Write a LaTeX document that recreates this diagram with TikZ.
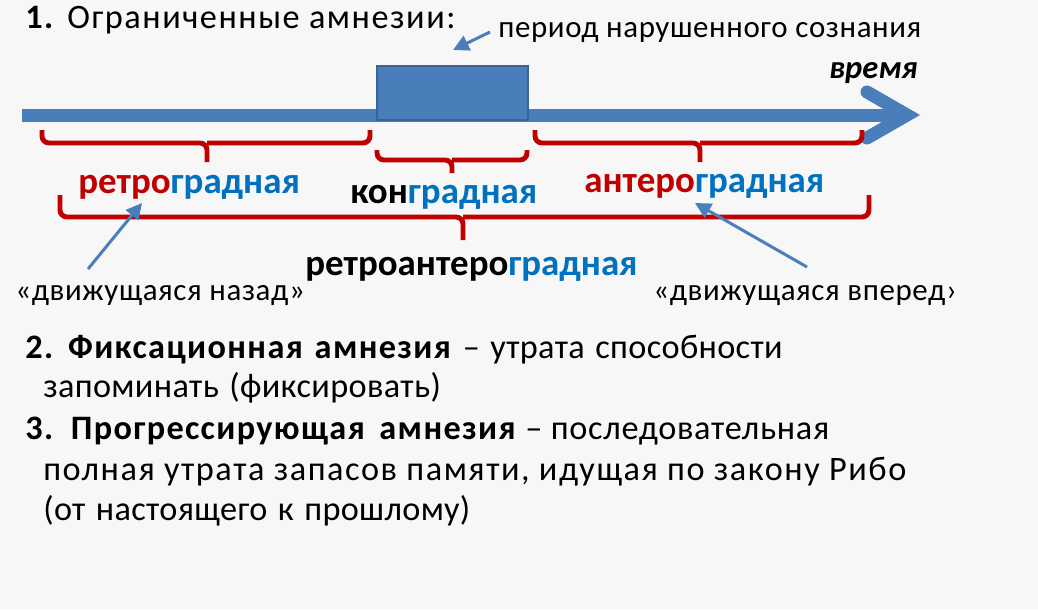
\documentclass[tikz,border=0pt]{standalone}
\usepackage{fontspec}
\setmainfont{Carlito}
\newfontfamily\titleface[LetterSpace=4.5]{Carlito}
\newfontfamily\wideface[LetterSpace=2,WordSpace=1.6,BoldFeatures={LetterSpace=4}]{Carlito}
\newfontfamily\tightface[LetterSpace=1,WordSpace=1.3,BoldFeatures={LetterSpace=4}]{Carlito}
\newfontfamily\longface[LetterSpace=4.5]{Carlito}
\newfontfamily\smallface[LetterSpace=2]{Carlito}
\usetikzlibrary{arrows.meta}
\definecolor{bgcol}{HTML}{F7F7F7}
\definecolor{axisblue}{HTML}{4A7EBB}
\definecolor{boxedge}{HTML}{3A6494}
\definecolor{bracketred}{HTML}{C00000}
\definecolor{wordblue}{HTML}{0070C0}
\begin{document}
\begin{tikzpicture}
        [
            x=0.02cm, y=-0.02cm,
            txt/.style={inner sep=0pt, anchor=base west, font=\wideface\fontsize{19.5}{23}\selectfont},
            tighttxt/.style={txt, font=\tightface\fontsize{19.5}{23}\selectfont},
            note/.style={inner sep=0pt, anchor=base west, font=\smallface\fontsize{17.6}{21}\selectfont},
            lbl/.style={inner sep=0pt, anchor=base west, font=\fontsize{21}{25}\selectfont\bfseries},
            brace/.style={draw=bracketred, line width=2.8pt, rounded corners=4pt},
            pointer/.style={draw=axisblue, line width=1.7pt, -{Triangle[length=9pt,width=9pt]}},
        ]
            \fill[bgcol] (0,0) rectangle (1038,609);
            \useasboundingbox (0,0) rectangle (1038,609);

            % time axis
            \draw[axisblue, line width=7.4pt] (22,115) -- (905,115);
            \draw[axisblue, line width=7.4pt, line cap=round, line join=miter] (867,92) -- (907,115) -- (867,138);
            \node[draw=boxedge, fill=axisblue, line width=0.9pt, minimum width=151*0.02cm, minimum height=54*0.02cm, inner sep=0pt] (box) at (452.5,93) {};

            % brackets
            \draw[brace] (42,130) |- (207,143) -- (207,162) (207,143) -| (370,130);
            \draw[brace] (377,150) |- (452,160) -- (452,173) (452,160) -| (527,150);
            \draw[brace] (535,130) |- (700,143) -- (700,162) (700,143) -| (862,130);
            \draw[brace] (60,195) |- (463,217) -- (463,240) (463,217) -| (869,195);

            % texts
            \node[txt, font=\titleface\fontsize{19.5}{23}\selectfont] (title) at (25,28) {\textbf{1.} Ограниченные амнезии:};
            \node[note] (period) at (498,37) {период нарушенного сознания};
            \node[note, anchor=base east, font=\fontsize{18.5}{22}\selectfont\bfseries\itshape] (time) at (918,78) {время};
            \node[lbl] (retro) at (78,193) {{\color{bracketred}ретро}{\color{wordblue}градная}};
            \node[lbl] (kon) at (350,203) {кон{\color{wordblue}градная}};
            \node[lbl] (antero) at (584,192) {{\color{bracketred}антеро}{\color{wordblue}градная}};
            \node[lbl] (both) at (305,275) {ретроантеро{\color{wordblue}градная}};
            \node[note] (back) at (15,300) {«движущаяся назад»};
            \begin{scope}
                \clip (640,270) rectangle (953,320);
                \node[note] (fwd) at (653,300) {«движущаяся вперед»};
            \end{scope}

            % pointers
            \coordinate (periodtip) at (453,50);
            \coordinate (backfrom) at (88,269);
            \coordinate (retrotip) at (142,203);
            \coordinate (fwdfrom) at (807,267);
            \coordinate (anterotip) at (695,203);
            \draw[pointer] (490,32) -- (periodtip);
            \draw[pointer] (backfrom) -- (retrotip);
            \draw[pointer] (fwdfrom) -- (anterotip);

            % other kinds
            \node[tighttxt] (fix1) at (25,358) {\textbf{2. Фиксационная амнезия} – утрата способности};
            \node[tighttxt] (fix2) at (43,397) {запоминать (фиксировать)};
            \node[txt] (prog1) at (25,439) {\textbf{3. Прогрессирующая амнезия} – последовательная};
            \node[txt, font=\longface\fontsize{19.5}{23}\selectfont] (prog2) at (43,480) {полная утрата запасов памяти, идущая по закону Рибо};
            \node[tighttxt] (prog3) at (43,520) {(от настоящего к прошлому)};
        \end{tikzpicture}
\end{document}
